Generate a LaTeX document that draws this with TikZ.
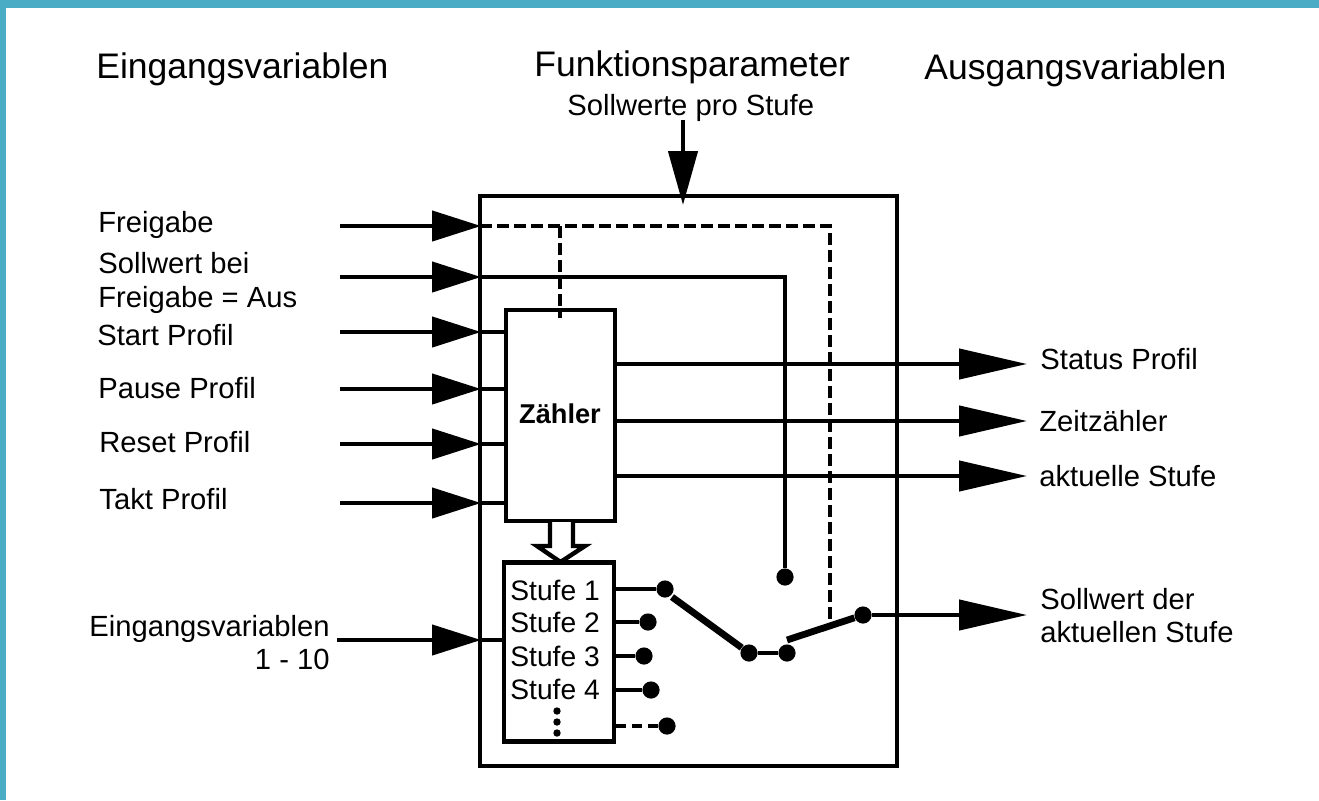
\documentclass[tikz,border=0pt]{standalone}
\usepackage{fontspec}
\setmainfont{Liberation Sans}
\usetikzlibrary{arrows.meta}
\definecolor{framecol}{HTML}{4BACC6}
\tikzset{
    lbl/.style={anchor=base west, inner sep=0pt, font=\fontsize{14.6}{16}\selectfont},
    steplbl/.style={anchor=base west, inner sep=0pt, font=\fontsize{14.1}{16}\selectfont},
    title/.style={anchor=base west, inner sep=0pt, font=\fontsize{17.75}{19}\selectfont},
    sig/.style={line width=2.2pt, -{Triangle[length=24.5pt,width=15pt,sep=0pt]}},
    sigout/.style={line width=2.2pt, -{Triangle[length=34pt,width=15pt,sep=0pt]}},
    wire/.style={line width=2.2pt},
    dashwire/.style={line width=2.2pt, dash pattern=on 5.8pt off 2.7pt},
    lever/.style={line width=3.4pt},
    box/.style={draw, line width=2.2pt, fill=white, inner sep=0pt, minimum width=0pt},
    contact/.style={circle, fill=black, inner sep=0pt, minimum size=8.6pt},
    pt/.style={circle, fill=black, inner sep=0pt, minimum size=3.7pt}
}
\begin{document}
\begin{tikzpicture}[x=0.5pt, y=-0.5pt]
    \useasboundingbox (0,0) rectangle (1319,800);
    % frame
    \fill[framecol] (0,0) rectangle (1319,8);
    \fill[framecol] (0,0) rectangle (6,800);
    % boxes
    \draw[wire] (480,196) rectangle (897,766);
    \coordinate (outertop) at (683,205);
    \coordinate (paramstart) at (683,120);
    % dashed lines stay under the inner boxes
    \coordinate (enable) at (480,226);
    \coordinate (enablecorner) at (830,226);
    \coordinate (enablebranch) at (560,226);
    \coordinate (enablecount) at (560,318);
    \coordinate (leverjoin) at (830,623);
    \draw[dashwire] (enable) -- (enablecorner) -- (leverjoin);
    \node[box, minimum width=54.5pt, minimum height=105.5pt] (counter) at (560.5,415.5) {};
    \node[box, minimum width=55pt, minimum height=89.5pt] (steps) at (559,652) {};
    \draw[dashwire] (enablebranch) -- (enablecount);
    \node[font=\fontsize{13.6}{16}\selectfont\bfseries] (counterlbl) at (560,414) {Zähler};
    % titles
    \node[title] (tin) at (96,78) {Eingangsvariablen};
    \node[title] (tpar) at (534,76) {Funktionsparameter};
    \node[title] (tout) at (924,79) {Ausgangsvariablen};
    \node[lbl] (tset) at (567,115) {Sollwerte pro Stufe};
    \draw[line width=2.2pt, -{Triangle[length=27pt,width=14.5pt,sep=0pt]}] (paramstart) -- (outertop);
    % inputs
    \foreach \name/\y/\tx/\ty/\txt in {a/226/98/232/Freigabe, b/277/98/273/Sollwert bei, c/332/97/345/Start Profil, d/389/98/398/Pause Profil, e/444/99/452/Reset Profil, f/503/99/509/Takt Profil}{
        \coordinate (in\name) at (340,\y);
        \coordinate (tip\name) at (481,\y);
        \draw[sig] (in\name) -- (tip\name);
        \node[lbl] (lbl\name) at (\tx,\ty) {\txt};
    }
    \node[lbl] (lblb2) at (98,307) {Freigabe = Aus};
    \foreach \y in {332,389,444,503}{
        \coordinate (c\y) at (480,\y);
        \draw[wire] (c\y) -- (counter.west |- c\y);
    }
    \coordinate (setlinea) at (480,277);
    \coordinate (setlineb) at (785,277);
    \node[contact] (setdot) at (785,577) {};
    \draw[wire] (setlinea) -- (setlineb) -- (setdot);
    % variables input
    \coordinate (varin) at (337,640);
    \coordinate (vartip) at (481,640);
    \draw[sig] (varin) -- (vartip);
    \draw[wire] (vartip) -- (steps.west |- vartip);
    \node[lbl, anchor=base east] (lblvar) at (330,636) {Eingangsvariablen};
    \node[lbl, anchor=base east] (lblvarb) at (330,669) {1 - 10};
    % outputs
    \foreach \name/\y/\tx/\ty/\txt in {s/364/1040/369/Status Profil, z/421/1039/431/Zeitzähler, k/476/1039/486/aktuelle Stufe}{
        \coordinate (out\name) at (1027,\y);
        \coordinate (from\name) at (615,\y);
        \draw[sigout] (from\name) -- (out\name);
        \node[lbl] (lbl\name) at (\tx,\ty) {\txt};
    }
    \node[contact] (outdot) at (863,615) {};
    \coordinate (outtip) at (1027,615);
    \draw[sigout] (outdot) -- (outtip);
    \node[lbl] (lblout) at (1040,609) {Sollwert der};
    \node[lbl] (lblout2) at (1040,642) {aktuellen Stufe};
    % hollow arrow
    \draw[line width=2.2pt, fill=white] (550,522) -- (550,546) -- (537,546) -- (560.5,562) -- (585,546) -- (573,546) -- (573,522);
    % steps
    \foreach \i/\y/\dx/\base in {1/589/665/600, 2/622/648/632, 3/656/644/666, 4/690/651/699}{
        \node[steplbl] (st\i) at (510,\base) {Stufe \i};
        \node[contact] (dot\i) at (\dx,\y) {};
        \draw[wire] (steps.east |- dot\i) -- (dot\i);
    }
    \node[contact] (dot5) at (667,726) {};
    \draw[line width=2.2pt, dash pattern=on 5pt off 3pt] (steps.east |- dot5) -- (dot5);
    \foreach \y in {711,722,733}{
        \node[pt] (more\y) at (557,\y) {};
    }
    % switch
    \node[contact] (swa) at (749,653) {};
    \node[contact] (swb) at (787,653) {};
    \draw[wire] (swa) -- (swb);
    \coordinate (leverstart) at (672,597);
    \coordinate (leverend) at (787,640);
    \draw[lever] (leverstart) -- (swa);
    \draw[lever] (leverend) -- (outdot);
\end{tikzpicture}
\end{document}
